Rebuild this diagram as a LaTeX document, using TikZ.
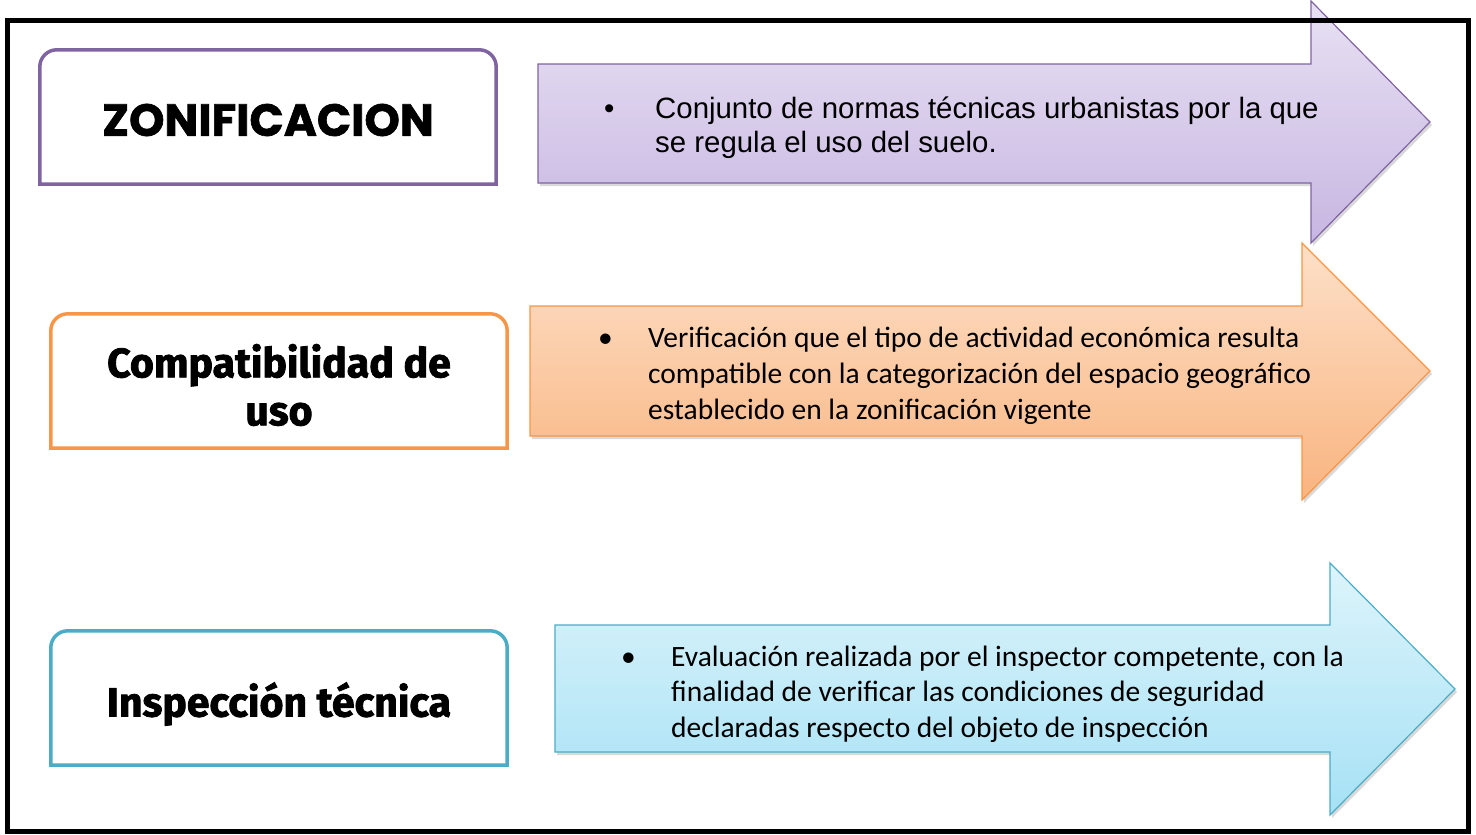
\documentclass[tikz,border=0pt]{standalone}
\usepackage{fontspec}
\setmainfont{Liberation Sans}
\newfontfamily\calibrifont{Carlito}
\newfontfamily\headfont{Poppins}[BoldFeatures={FakeBold=1.5}]
\newfontfamily\titlefont{Fira Sans}[BoldFeatures={FakeBold=2}]
\usetikzlibrary{shadows}

\definecolor{zonline}{HTML}{8064A2}
\definecolor{zontop}{HTML}{E8E1F3}
\definecolor{zonbot}{HTML}{C7B6E2}
\definecolor{compline}{HTML}{F79646}
\definecolor{comptop}{HTML}{FDE0C8}
\definecolor{compbot}{HTML}{F9B480}
\definecolor{inspline}{HTML}{4BACC6}
\definecolor{insptop}{HTML}{DDF4FB}
\definecolor{inspbot}{HTML}{A6E1F5}

\begin{document}
\begin{tikzpicture}[x=1pt, y=-1pt,
    titlebox/.style={minimum width=456pt, minimum height=134pt, inner sep=0pt},
    titletext/.style={align=center, inner sep=0pt},
    boxline/.style={line width=3.5pt, rounded corners=17pt},
    arrowbody/.style={line width=1.2pt, drop shadow={opacity=0.3, shadow xshift=2pt, shadow yshift=-3pt}},
    bullettext/.style={anchor=base west, inner sep=0pt}]

    \useasboundingbox (0,0) rectangle (1476,835);

    % boxes on the left
    \node[titlebox] (zon) at (268,117) {};
    \node[titlebox] (comp) at (279,381) {};
    \node[titlebox] (insp) at (279,698) {};

    \draw[boxline, draw=zonline] (zon.south west) -- (zon.north west) -- (zon.north east) [sharp corners] -- (zon.south east) -- cycle;
    \draw[boxline, draw=compline] (comp.south west) -- (comp.north west) -- (comp.north east) [sharp corners] -- (comp.south east) -- cycle;
    \draw[boxline, draw=inspline] (insp.south west) -- (insp.north west) -- (insp.north east) [sharp corners] -- (insp.south east) -- cycle;

    \node[titletext, font=\headfont\bfseries\fontsize{45}{45}\selectfont] (zontitle) at ([yshift=-3pt]zon.center) {ZONIFICACION};
    \node[titletext, font=\titlefont\bfseries\fontsize{41}{48}\selectfont] (comptitle) at ([yshift=-4pt]comp.center) {Compatibilidad de\\uso};
    \node[titletext, font=\titlefont\bfseries\fontsize{41}{48}\selectfont] (insptitle) at ([yshift=-6pt]insp.center) {Inspección técnica};

    % arrows
    \path[arrowbody, draw=zonline, top color=zontop, bottom color=zonbot]
        (538,64) -- (1311,64) -- (1311,1) -- (1430,122) -- (1311,243) -- (1311,183) -- (538,183) -- cycle;
    \path[arrowbody, draw=compline, top color=comptop, bottom color=compbot]
        (530,306) -- (1302,306) -- (1302,243) -- (1430,371) -- (1302,500) -- (1302,436) -- (530,436) -- cycle;
    \path[arrowbody, draw=inspline, top color=insptop, bottom color=inspbot]
        (555,625) -- (1330,625) -- (1330,563) -- (1455,689) -- (1330,815) -- (1330,752) -- (555,752) -- cycle;

    % texts in the arrows
    \node[bullettext, font=\fontsize{29.4}{34}\selectfont] (zontext) at (604,118)
        {\begin{tabular}[t]{@{}p{51pt}@{}l@{}}
        \textbullet & Conjunto de normas técnicas urbanistas por la que\\
         & se regula el uso del suelo.
        \end{tabular}};
    \node[bullettext, font=\calibrifont\fontsize{29.5}{36}\selectfont] (comptext) at (598,347)
        {\begin{tabular}[t]{@{}p{50pt}@{}l@{}}
        \textbullet & Verificación que el tipo de actividad económica resulta\\
         & compatible con la categorización del espacio geográfico\\
         & establecido en la zonificación vigente
        \end{tabular}};
    \node[bullettext, font=\calibrifont\fontsize{29.5}{35.5}\selectfont] (insptext) at (621,666)
        {\begin{tabular}[t]{@{}p{50pt}@{}l@{}}
        \textbullet & Evaluación realizada por el inspector competente, con la\\
         & finalidad de verificar las condiciones de seguridad\\
         & declaradas respecto del objeto de inspección
        \end{tabular}};

    % frame
    \draw[line width=5pt] (7,20) rectangle (1468,831);
\end{tikzpicture}
\end{document}
